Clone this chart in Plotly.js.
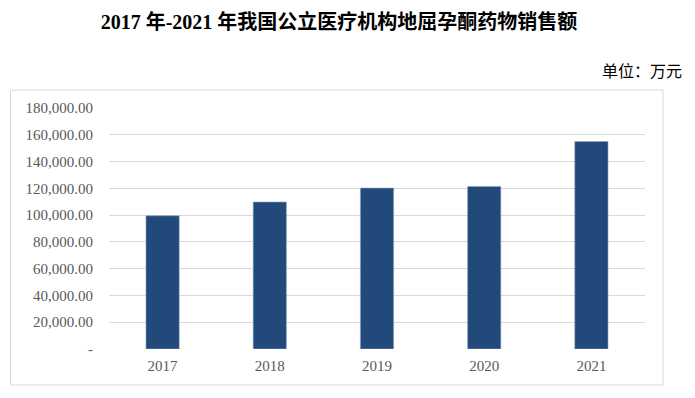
<!DOCTYPE html>
<html><head><meta charset="utf-8">
<script src="https://cdn.plot.ly/plotly-3.0.1.min.js"></script>
<style>html,body{margin:0;padding:0;background:#fff}</style>
</head><body>
<div id="chart" style="width:695px;height:398px"></div>
<script>
const years = ['2017','2018','2019','2020','2021'];
const sales = [99500, 109800, 120200, 121400, 155000];
const yTickVals = [0,20000,40000,60000,80000,100000,120000,140000,160000,180000];
const yTickText = ['-','20,000.00','40,000.00','60,000.00','80,000.00','100,000.00','120,000.00','140,000.00','160,000.00','180,000.00'];
const titleText = '2017 年-2021 年我国公立医疗机构地屈孕酮药物销售额';
const unitText = '单位：万元';

const W = 695, H = 398;
const m = {l:109, r:50, t:108, b:49};
const pw = W - m.l - m.r, ph = H - m.t - m.b;
const px = x => (x - m.l) / pw;
const py = y => (H - m.b - y) / ph;

const serif = '"Liberation Serif","Times New Roman","Noto Serif CJK SC","Noto Sans CJK SC",serif';

Plotly.newPlot('chart', [{
  type: 'bar', x: years, y: sales,
  marker: {color: '#214a7b', line: {color: '#8fa6c4', width: 0.6}},
  hoverinfo: 'none'
}], {
  width: W, height: H, margin: m,
  paper_bgcolor: '#fff', plot_bgcolor: '#fff',
  bargap: 0.69, showlegend: false,
  title: {text: '<b>' + titleText + '</b>', x: px(339), xanchor: 'center', xref: 'paper', y: 1 - 22/H, yanchor: 'middle',
          font: {family: '"Liberation Serif","Noto Sans CJK SC",serif', size: 20, color: '#000'}},
  xaxis: {type: 'category', showgrid: false, showline: false, zeroline: false, ticks: '',
          tickfont: {family: serif, size: 15, color: '#595959'}, ticklabelstandoff: 6},
  yaxis: {range: [0, 180000], tickvals: yTickVals, ticktext: yTickText, showline: false, zeroline: false,
          gridcolor: '#d9d9d9', gridwidth: 1, ticks: '',
          tickfont: {family: serif, size: 15, color: '#595959'}, ticklabelstandoff: 15},
  annotations: [{text: unitText, xref: 'paper', yref: 'paper', x: px(684), y: py(70),
                 xanchor: 'right', yanchor: 'middle', showarrow: false,
                 font: {family: '"Noto Sans CJK SC",serif', size: 16, color: '#000'}}],
  shapes: [{type: 'rect', xref: 'paper', yref: 'paper', x0: px(10.5), x1: px(663), y0: py(90), y1: py(385),
            line: {color: '#d9d9d9', width: 1}, fillcolor: 'rgba(0,0,0,0)', layer: 'below'}]
}, {displayModeBar: false, staticPlot: true});
</script>
</body></html>
